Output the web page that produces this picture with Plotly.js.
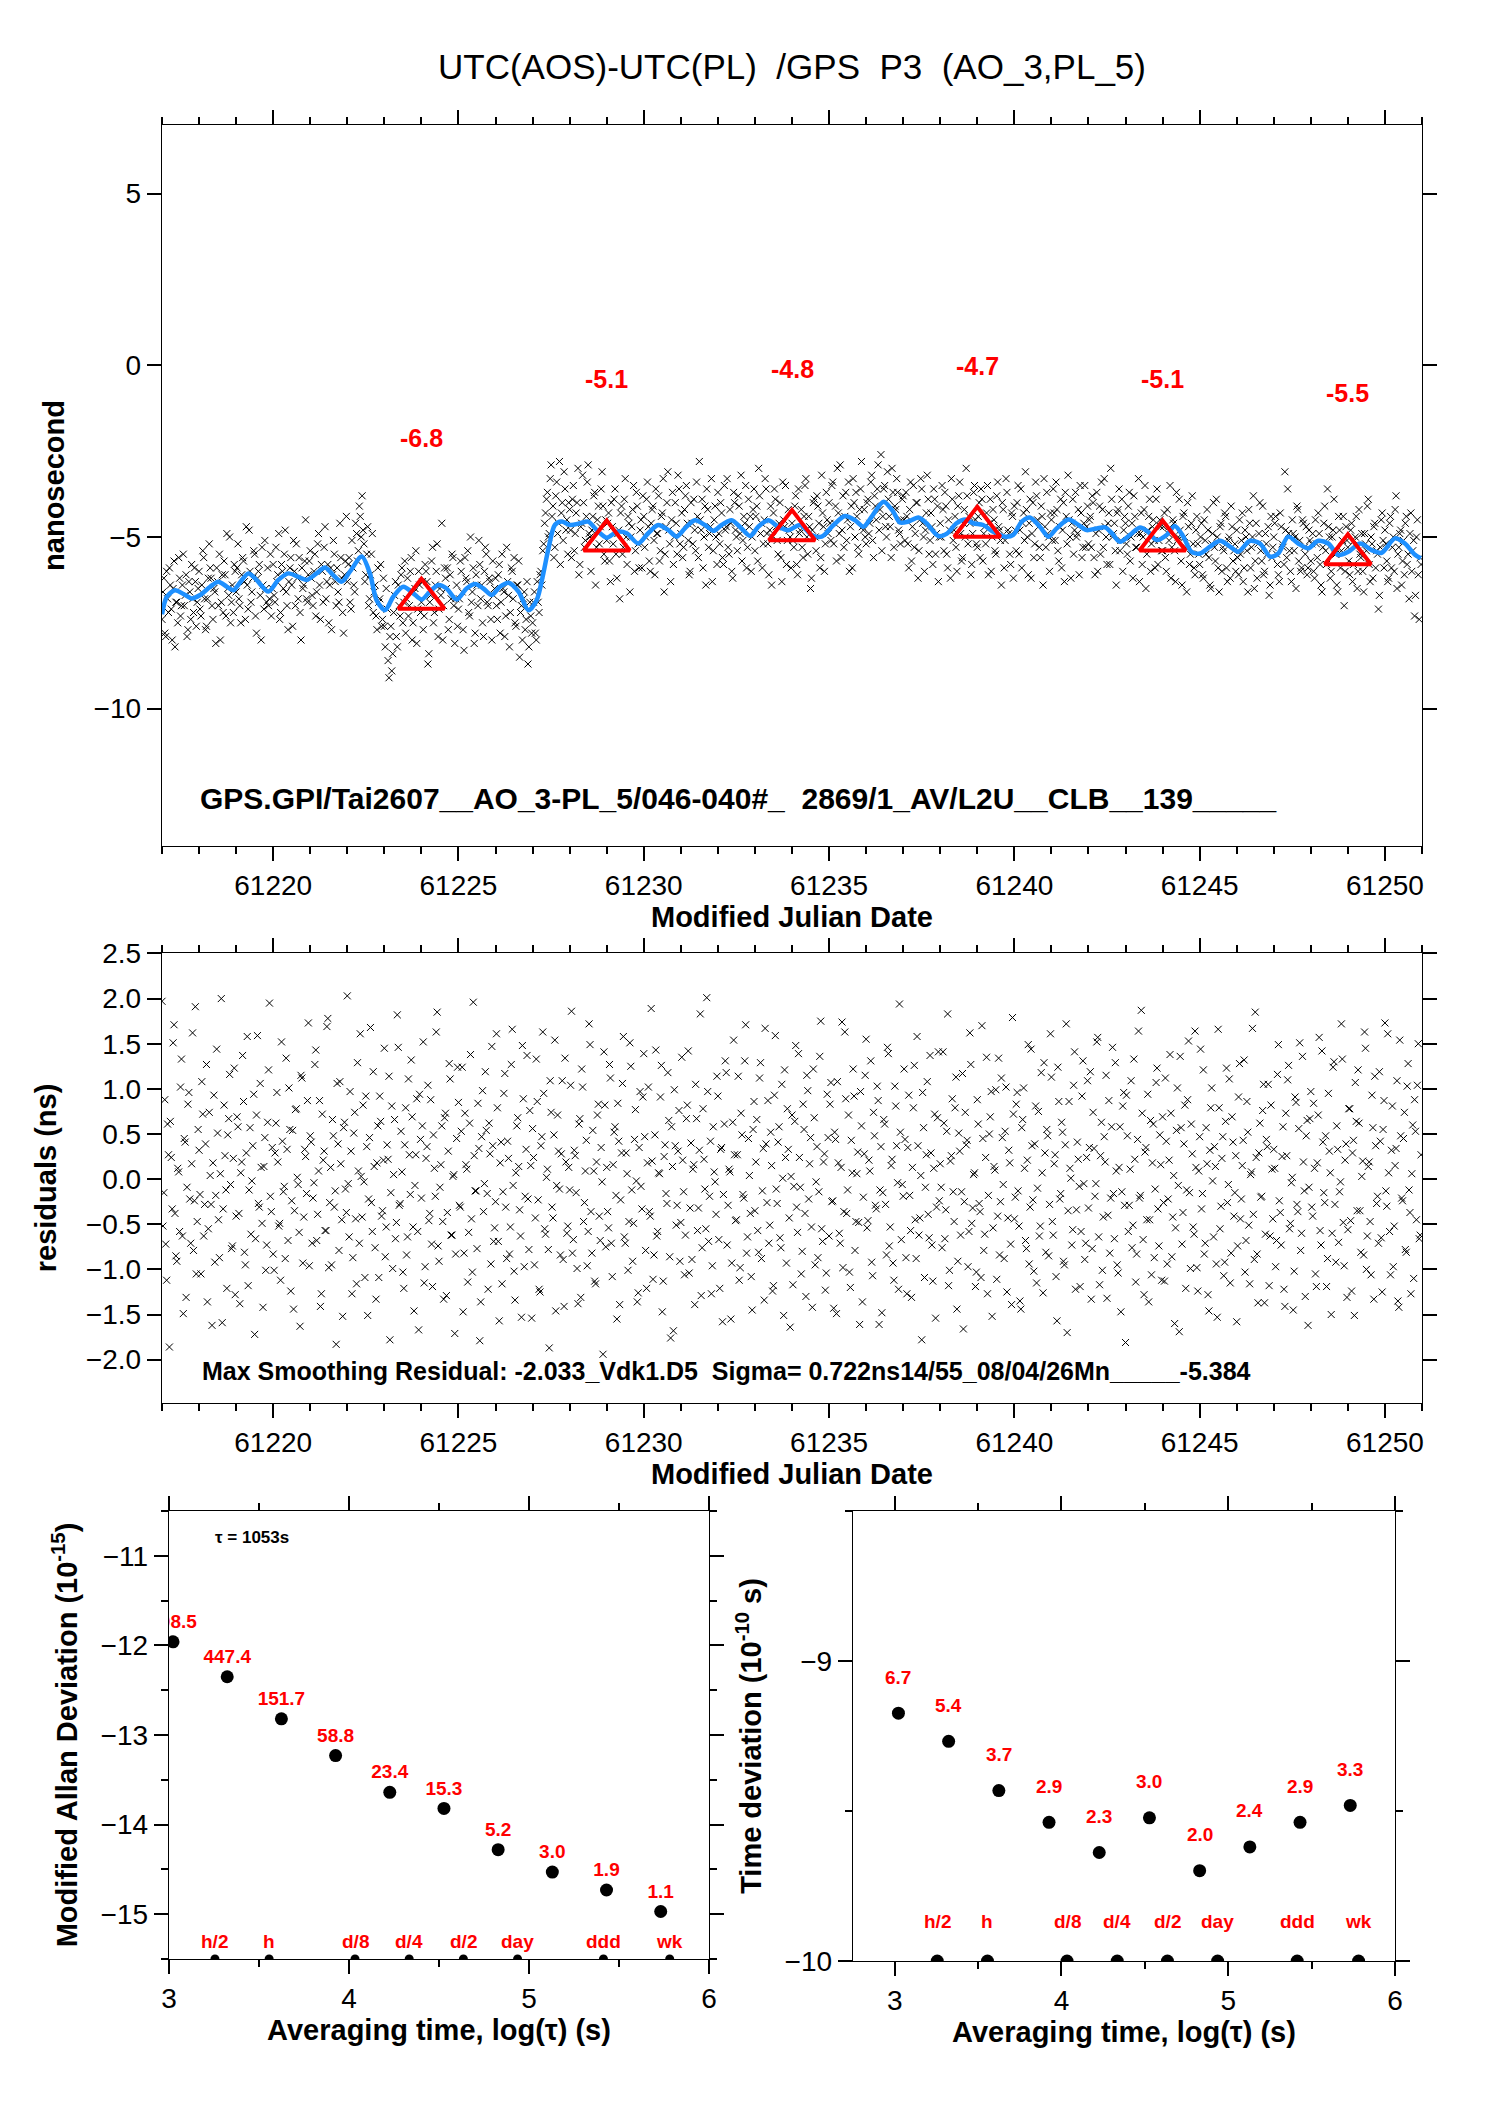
<!DOCTYPE html>
<html><head><meta charset="utf-8">
<script src="https://cdn.plot.ly/plotly-3.0.1.min.js"></script>
<style>html,body{margin:0;padding:0;background:#fff}#chart{width:1488px;height:2105px}</style>
</head><body><div id="chart"></div>
<script>
// ---- sampling of the clock-comparison series (MJD) ----
const sampleStartMJD = 61217.0;
const sampleStartMJD_B = 61217.025;
const sampleStepDays = 0.05;

// ---- UTC(AOS)-UTC(PL) raw points, ns (20 per day) ----
const clockDiffNs = [
-7.4,-6.2,-7.9,-6.8,-5.9,-7.1,-6.5,-8.2,-6.9,-5.6,-7.3,-6.4,-7.0,-6.1,-7.7,-6.6,-5.8,-7.2,-6.3,-6.9,
-6.0,-7.3,-5.4,-6.8,-7.6,-6.2,-5.9,-7.0,-6.5,-8.1,-6.3,-5.5,-6.9,-7.2,-6.1,-4.9,-6.7,-7.5,-6.4,-5.8,
-6.6,-5.2,-7.0,-6.1,-5.7,-7.4,-6.4,-4.8,-6.9,-6.2,-5.5,-7.8,-6.0,-6.7,-5.3,-7.1,-6.5,-5.9,-6.8,-7.3,
-5.8,-6.9,-6.3,-4.9,-7.2,-6.0,-5.5,-6.6,-7.7,-5.9,-6.4,-5.1,-7.0,-6.2,-5.6,-8.0,-6.5,-5.7,-6.8,-6.1,
-5.4,-6.7,-6.0,-7.3,-5.2,-6.4,-5.8,-6.9,-4.7,-6.3,-7.5,-5.9,-6.1,-5.5,-7.0,-6.6,-4.6,-6.2,-7.8,-5.7,
-6.3,-5.6,-7.1,-5.9,-6.6,-4.9,-5.4,-4.4,-3.8,-5.2,-6.1,-4.7,-6.8,-5.5,-7.2,-6.4,-7.7,-6.9,-5.8,-7.4,
-7.6,-6.5,-8.6,-7.9,-8.9,-7.2,-6.3,-8.2,-7.0,-6.1,-7.5,-5.7,-6.8,-7.3,-6.0,-8.0,-6.6,-5.4,-7.1,-6.4,
-6.9,-7.7,-5.8,-6.3,-8.4,-6.7,-5.3,-7.2,-6.0,-7.9,-6.5,-4.6,-7.0,-6.2,-5.9,-7.4,-6.8,-5.6,-8.1,-6.4,
-7.1,-5.7,-6.6,-8.3,-6.2,-5.4,-7.3,-6.9,-5.9,-7.8,-6.4,-5.1,-6.8,-7.5,-6.0,-5.5,-7.0,-6.3,-8.0,-6.7,
-6.2,-7.4,-5.8,-6.9,-6.5,-7.9,-5.3,-6.7,-7.2,-6.0,-5.6,-7.6,-6.4,-8.5,-7.0,-6.8,-7.7,-6.3,-8.2,-7.3,
-7.5,-6.6,-8.0,-6.9,-6.1,-6.4,-5.2,-4.3,-3.7,-4.9,-2.9,-4.1,-5.3,-3.4,-4.6,-5.8,-4.0,-3.1,-4.8,-5.5,
-4.2,-5.6,-3.5,-4.9,-4.0,-6.1,-4.7,-3.2,-5.3,-4.4,-2.9,-5.0,-4.8,-3.8,-6.4,-4.5,-5.2,-3.6,-4.1,-5.7,
-5.1,-4.3,-6.3,-4.7,-3.9,-5.5,-4.9,-6.8,-4.1,-5.3,-3.3,-5.8,-4.6,-5.0,-4.2,-6.0,-3.7,-5.2,-4.8,-5.9,
-4.4,-5.0,-3.4,-5.7,-4.6,-4.1,-6.1,-4.9,-3.8,-5.4,-4.3,-6.6,-4.7,-3.1,-5.2,-4.5,-5.8,-4.0,-5.5,-3.6,
-4.9,-5.6,-4.2,-3.5,-5.1,-6.0,-4.6,-3.9,-5.4,-4.4,-2.8,-4.8,-5.9,-4.1,-3.6,-5.3,-4.7,-6.3,-4.5,-5.0,
-3.7,-5.2,-4.3,-5.8,-4.8,-3.3,-5.5,-4.6,-6.2,-4.0,-5.0,-3.8,-4.9,-5.7,-4.4,-3.5,-5.3,-4.7,-6.0,-4.2,
-5.4,-4.1,-3.0,-4.9,-5.9,-4.5,-3.6,-5.2,-4.8,-6.4,-4.3,-3.9,-5.1,-4.6,-5.6,-3.4,-4.7,-5.8,-4.2,-5.0,
-4.6,-5.3,-3.8,-6.1,-4.9,-4.2,-5.6,-3.5,-5.0,-4.4,-6.5,-4.8,-3.9,-5.4,-4.1,-5.9,-3.2,-4.7,-5.2,-4.5,
-4.0,-5.1,-3.4,-4.6,-5.7,-4.3,-2.9,-4.8,-5.3,-3.7,-4.5,-6.0,-4.1,-3.3,-5.0,-4.4,-5.5,-3.6,-4.7,-4.2,
-5.2,-3.9,-4.6,-3.2,-5.6,-4.1,-3.6,-4.8,-2.6,-4.4,-3.5,-5.0,-3.9,-4.7,-3.0,-5.3,-4.2,-3.7,-4.9,-4.5,
-3.8,-5.1,-4.4,-5.9,-3.4,-4.7,-5.3,-4.0,-6.2,-4.5,-3.6,-5.0,-4.8,-3.2,-5.5,-4.3,-5.8,-3.9,-4.9,-6.3,
-4.6,-3.5,-5.4,-4.1,-5.9,-4.8,-3.3,-5.1,-4.4,-6.0,-3.8,-4.9,-5.6,-4.2,-3.0,-5.2,-4.6,-5.8,-3.7,-4.5,
-5.3,-4.0,-3.6,-5.7,-4.7,-4.3,-6.1,-3.9,-5.0,-4.5,-5.5,-3.4,-4.8,-6.4,-4.2,-5.1,-3.7,-4.9,-5.8,-4.4,
-4.1,-5.4,-3.5,-4.8,-5.9,-4.3,-3.1,-5.0,-4.6,-6.2,-4.0,-5.2,-3.8,-4.7,-5.6,-4.4,-3.3,-5.3,-4.9,-6.0,
-4.5,-3.6,-5.1,-4.2,-5.7,-3.9,-4.8,-6.3,-4.4,-3.2,-5.0,-4.6,-5.5,-3.7,-4.9,-6.1,-4.3,-5.3,-3.5,-4.7,
-5.2,-4.4,-3.8,-5.6,-4.9,-6.0,-4.1,-3.4,-5.3,-4.7,-5.8,-4.3,-3.0,-5.0,-4.6,-6.4,-4.2,-5.4,-3.9,-4.8,
-4.6,-5.5,-3.7,-5.0,-6.2,-4.4,-5.3,-3.3,-4.9,-5.8,-4.2,-6.5,-4.8,-3.9,-5.2,-4.5,-5.9,-3.6,-5.1,-4.7,
-5.4,-4.3,-6.0,-4.9,-3.5,-5.3,-4.6,-6.3,-5.1,-3.9,-5.7,-4.4,-5.0,-6.6,-4.7,-5.5,-3.8,-5.9,-4.8,-5.2,
-5.8,-4.6,-6.2,-5.1,-4.2,-5.6,-6.5,-4.9,-5.3,-3.9,-5.9,-4.7,-6.0,-5.4,-4.4,-6.3,-5.0,-4.1,-5.7,-5.2,
-4.8,-6.1,-5.5,-4.3,-5.9,-5.0,-6.6,-4.6,-5.3,-3.8,-5.7,-6.2,-4.9,-5.4,-4.1,-6.0,-5.2,-4.7,-6.4,-5.6,
-5.0,-4.4,-5.8,-6.3,-4.7,-5.3,-3.1,-5.6,-4.9,-6.0,-4.5,-5.4,-6.5,-4.2,-5.1,-5.9,-4.6,-5.5,-6.1,-4.8,
-5.7,-4.9,-6.2,-5.2,-4.3,-5.8,-6.6,-4.6,-5.4,-3.6,-5.0,-6.0,-4.8,-5.5,-6.4,-4.4,-5.9,-5.1,-7.0,-4.7,
-5.3,-6.1,-4.6,-5.8,-5.0,-6.5,-4.2,-5.6,-6.0,-4.9,-5.4,-3.9,-6.3,-5.2,-4.7,-5.9,-5.5,-6.7,-4.5,-5.1,
-4.8,-5.7,-6.2,-4.4,-5.3,-6.0,-3.8,-5.5,-4.9,-6.4,-5.1,-4.6,-5.8,-6.8,-4.3,-5.4,-7.3,-5.0,-6.1,-5.6
];
// second interleaved set of raw points (half-step later)
const clockDiffNsB = [
-6.6,-7.8,-6.0,-7.2,-6.4,-8.0,-5.7,-6.9,-7.5,-6.2,-7.0,-5.5,-6.7,-7.9,-6.3,-7.4,-6.8,-5.9,-7.6,-6.5,
-7.1,-6.4,-5.6,-7.7,-6.8,-5.2,-6.2,-7.4,-6.6,-5.9,-7.0,-8.0,-6.1,-5.7,-7.3,-6.5,-5.0,-6.9,-7.2,-6.0,
-5.9,-6.8,-7.5,-5.6,-6.3,-4.7,-7.1,-6.0,-6.6,-5.4,-7.3,-6.2,-5.8,-8.0,-6.4,-5.1,-6.9,-7.0,-5.5,-6.5,
-6.7,-5.3,-6.1,-7.4,-5.8,-6.5,-4.8,-7.0,-6.3,-5.6,-7.6,-6.0,-5.2,-6.8,-7.2,-5.9,-6.4,-4.5,-6.9,-5.7,
-6.2,-7.0,-5.5,-6.6,-4.9,-7.4,-6.0,-5.3,-6.8,-5.8,-6.4,-7.7,-5.1,-6.3,-5.9,-6.9,-5.6,-7.2,-6.1,-4.4,
-5.8,-6.9,-5.1,-6.4,-4.6,-5.7,-4.1,-5.0,-4.8,-6.3,-5.5,-7.0,-6.1,-4.9,-6.6,-7.3,-5.9,-6.8,-7.6,-6.2,
-8.2,-7.1,-9.1,-7.6,-8.4,-6.7,-7.9,-6.4,-7.3,-5.9,-6.9,-7.8,-6.2,-7.0,-5.6,-7.5,-6.5,-8.1,-6.0,-7.2,
-6.3,-7.3,-6.0,-8.7,-6.9,-5.7,-7.5,-6.4,-5.2,-7.1,-6.7,-8.0,-5.9,-6.5,-7.7,-6.1,-5.5,-7.0,-6.8,-7.6,
-6.8,-6.0,-7.7,-5.6,-6.3,-7.2,-5.0,-6.6,-8.1,-6.1,-7.0,-5.8,-6.4,-7.9,-5.3,-6.9,-6.2,-7.4,-5.7,-6.5,
-7.0,-6.1,-7.8,-5.5,-6.6,-7.3,-6.3,-8.2,-5.9,-6.8,-7.5,-6.4,-5.7,-7.2,-8.0,-6.6,-7.4,-8.7,-6.9,-7.8,
-6.9,-7.8,-6.3,-7.2,-6.0,-5.4,-4.6,-3.9,-5.0,-3.3,-4.4,-5.6,-3.8,-4.9,-2.8,-4.3,-5.1,-3.6,-4.5,-4.0,
-4.8,-3.9,-5.4,-4.3,-3.0,-5.8,-4.6,-4.0,-5.1,-3.4,-4.9,-6.0,-4.4,-3.7,-5.3,-4.1,-4.7,-3.1,-5.5,-4.5,
-4.6,-5.7,-4.0,-5.2,-3.6,-6.2,-4.8,-4.3,-5.5,-3.9,-5.0,-4.4,-6.6,-4.7,-3.5,-5.4,-4.1,-5.9,-4.5,-3.8,
-5.3,-3.9,-4.7,-6.0,-4.2,-5.1,-3.6,-4.9,-5.7,-4.4,-3.3,-5.5,-4.0,-4.8,-6.3,-3.7,-5.0,-4.6,-3.2,-5.2,
-4.3,-5.3,-3.8,-4.6,-6.1,-4.0,-5.2,-4.8,-3.4,-5.6,-4.5,-3.9,-5.0,-6.4,-4.2,-4.9,-3.3,-5.4,-4.1,-5.8,
-4.9,-4.0,-5.6,-3.5,-4.7,-5.3,-4.2,-6.0,-3.7,-4.8,-5.4,-4.1,-3.2,-5.1,-4.6,-5.9,-3.9,-4.4,-5.0,-3.6,
-4.4,-5.7,-3.8,-4.6,-5.2,-3.3,-4.9,-6.1,-4.1,-5.0,-3.6,-4.7,-5.5,-4.0,-6.3,-4.5,-3.5,-5.1,-4.8,-5.9,
-5.1,-4.1,-5.8,-3.6,-4.8,-5.3,-4.4,-3.3,-5.5,-4.7,-6.2,-4.0,-5.0,-3.8,-4.6,-5.6,-4.3,-6.0,-3.7,-4.9,
-4.6,-3.5,-5.2,-4.1,-3.0,-4.9,-5.6,-3.8,-4.4,-5.1,-3.4,-4.7,-5.9,-4.0,-3.7,-5.3,-4.2,-2.8,-4.8,-5.0,
-4.0,-4.9,-3.4,-5.1,-3.8,-4.5,-2.9,-4.2,-5.4,-3.6,-4.7,-3.1,-4.4,-5.6,-3.7,-4.1,-3.3,-4.8,-5.2,-3.9,
-4.5,-3.7,-5.2,-4.2,-5.7,-3.5,-4.9,-4.0,-5.4,-3.3,-4.6,-6.0,-4.3,-3.9,-5.1,-4.7,-3.6,-5.5,-4.1,-5.0,
-5.0,-4.2,-3.7,-5.5,-4.5,-6.2,-3.9,-4.8,-5.3,-4.1,-3.4,-5.7,-4.6,-5.0,-3.8,-4.4,-6.1,-4.9,-3.5,-5.2,
-4.4,-5.6,-3.9,-4.9,-5.2,-3.5,-4.6,-6.0,-4.2,-5.4,-3.8,-4.7,-5.1,-4.0,-5.9,-3.3,-4.8,-5.5,-4.3,-6.2,
-4.8,-4.0,-5.5,-3.6,-4.6,-5.1,-4.2,-6.1,-3.9,-4.9,-5.6,-3.4,-4.5,-5.3,-4.1,-6.4,-4.7,-3.7,-5.0,-4.3,
-5.1,-4.3,-3.4,-5.4,-4.7,-5.9,-4.0,-3.7,-5.2,-4.5,-6.2,-3.9,-4.8,-5.0,-4.2,-3.5,-5.6,-4.6,-5.3,-4.1,
-4.5,-5.3,-4.0,-6.1,-3.7,-4.8,-5.5,-4.2,-3.3,-5.0,-4.6,-5.8,-3.9,-4.9,-5.4,-4.3,-3.6,-5.1,-6.0,-4.4,
-5.2,-4.1,-5.7,-4.6,-3.8,-5.3,-4.9,-6.3,-4.3,-5.0,-3.5,-5.5,-4.4,-6.0,-4.7,-5.1,-3.9,-5.8,-4.5,-5.4,
-4.7,-5.6,-4.2,-5.1,-6.2,-4.5,-5.4,-3.7,-5.0,-4.8,-6.4,-4.3,-5.3,-4.0,-5.8,-4.6,-5.2,-6.1,-4.4,-5.5,
-5.0,-6.1,-4.5,-5.5,-4.8,-6.4,-5.2,-4.0,-5.7,-5.0,-6.6,-4.6,-5.3,-4.3,-5.9,-5.1,-6.2,-4.7,-5.4,-6.0,
-5.6,-4.5,-5.1,-6.3,-4.8,-5.4,-4.2,-5.9,-5.0,-6.5,-4.6,-5.2,-4.0,-5.7,-6.1,-4.9,-5.5,-6.7,-4.4,-5.3,
-4.6,-5.5,-6.1,-4.3,-5.2,-5.8,-4.8,-3.6,-5.4,-6.3,-4.9,-5.0,-4.1,-5.7,-6.0,-4.5,-5.3,-4.7,-5.9,-5.1,
-5.2,-6.0,-4.5,-5.6,-4.9,-6.4,-5.3,-4.1,-5.8,-4.7,-6.2,-5.0,-3.9,-5.5,-6.6,-4.8,-5.4,-4.4,-6.0,-5.1,
-5.7,-4.8,-6.3,-5.1,-4.4,-6.0,-5.5,-4.9,-6.6,-5.2,-4.1,-5.8,-5.0,-6.2,-4.6,-5.4,-7.1,-5.3,-4.3,-5.9,
-5.2,-6.3,-4.6,-5.9,-5.0,-4.2,-6.5,-5.3,-4.8,-5.7,-6.1,-4.4,-5.5,-4.9,-6.0,-5.1,-6.7,-4.5,-7.4,-5.8
];

// ---- smoothing residuals, ns ----
const residualsNs = [
1.97,-0.15,-0.72,0.61,-1.86,0.24,1.51,-0.38,-0.91,0.08,1.02,-0.63,0.45,-1.31,0.83,-0.22,0.17,-0.79,1.91,-0.47,
0.32,-1.05,0.72,-0.28,1.27,-0.55,0.04,-1.62,0.93,-0.18,0.51,-0.87,2.00,-0.33,0.26,-1.21,0.67,-0.06,-0.74,1.23,
-0.41,0.58,-1.38,0.19,0.86,-0.95,1.58,-0.12,-0.61,0.37,-1.72,0.71,-0.27,1.06,-0.49,0.14,-1.01,0.63,1.95,-0.36,
-0.83,0.29,0.96,-0.52,-1.12,0.42,-0.08,1.34,-0.68,0.55,-0.24,-1.44,0.77,0.02,-0.59,1.15,-0.93,0.33,-0.16,1.73,
0.48,-0.71,-0.04,1.43,-0.39,0.87,-1.27,0.21,-0.57,1.69,-0.98,0.13,0.66,-0.31,-1.83,0.39,1.08,-0.45,0.57,-0.11,
2.03,-0.64,0.31,-0.87,0.74,-1.16,0.09,1.61,-0.42,-0.03,0.92,-1.51,0.46,-0.26,1.19,-0.76,0.18,-1.09,0.64,-0.35,
1.45,-0.53,0.22,-1.78,0.81,0.05,-0.66,1.82,-0.29,0.53,-1.03,0.38,-0.84,1.11,-0.17,0.69,-1.46,0.27,-0.58,0.94,
-0.21,1.52,-0.97,0.36,-0.46,0.88,-1.19,0.12,1.63,-0.74,-0.09,0.59,-1.33,0.73,-0.37,1.28,-0.62,0.03,-1.71,0.45,
0.85,-0.31,1.24,-0.82,0.16,-1.14,0.62,-0.44,1.96,-0.13,-0.77,0.34,-1.36,0.98,-0.05,0.54,-1.22,0.28,1.47,-0.69,
-0.25,0.79,-1.57,0.41,-0.14,1.17,-0.88,0.23,-0.53,1.66,-1.02,0.07,0.68,-0.34,-1.53,0.89,-0.19,1.37,-0.78,0.15,
0.56,-0.95,1.33,-0.23,-1.25,0.47,0.95,-0.61,0.11,-1.87,0.74,-0.43,1.54,-0.07,0.31,-0.84,1.09,-1.41,0.19,-0.52,
-0.12,1.86,-0.67,0.26,-0.99,0.61,-1.31,1.02,-0.26,0.43,-0.58,1.49,-0.82,0.09,-1.16,0.71,-0.41,0.35,-1.94,0.82,
0.13,-0.54,1.12,-1.08,0.52,-0.18,0.84,-1.39,0.29,1.58,-0.71,0.06,-0.47,1.25,-0.91,0.44,-0.02,-1.26,0.97,-0.33,
1.39,-0.79,0.18,-0.36,1.89,-1.11,0.49,-0.63,0.07,0.91,-1.47,0.25,-0.16,1.18,-0.86,0.58,-1.68,0.37,-0.29,0.76,
-0.48,0.21,-1.06,0.67,1.42,-0.32,-0.89,0.16,1.05,-0.57,0.32,-1.29,0.78,-0.11,2.01,-0.69,0.42,-0.96,0.08,-0.39,
0.92,-1.21,0.35,-0.17,1.31,-0.73,0.11,-1.55,0.63,0.27,-0.45,1.14,-0.98,0.49,-0.21,1.71,-0.64,0.04,-1.08,0.55,
-0.35,0.66,-0.81,1.29,-0.13,-1.34,0.39,0.87,-0.51,0.15,-1.18,1.59,-0.27,0.58,-0.76,0.01,1.21,-0.93,0.33,-1.64,
0.71,-0.08,1.48,-0.59,0.24,-1.05,0.83,-0.38,1.15,-0.22,0.46,-1.42,0.68,-0.03,-0.87,1.36,-0.55,0.19,-1.23,0.94,
-0.63,1.07,-0.24,0.52,-1.49,0.18,-0.71,1.74,-0.36,0.89,-0.12,-1.03,0.43,1.22,-0.79,0.06,-0.48,0.97,-1.36,0.28,
1.55,-0.46,0.09,-0.92,0.74,-0.29,1.03,-1.61,0.36,-0.15,0.61,-0.84,1.39,-0.53,0.22,-1.12,0.81,-0.04,1.94,-0.67,
-0.19,0.44,-1.27,0.93,-0.57,0.13,1.26,-0.88,0.37,-0.43,-1.78,0.57,-0.09,1.08,-0.65,0.29,-1.13,0.72,-0.31,1.41,
0.17,-0.76,0.62,-0.34,1.83,-1.01,0.26,-0.14,0.79,-1.44,0.51,-0.62,1.17,-0.25,0.38,-0.97,1.62,-0.49,0.05,-1.19,
0.88,-0.27,-1.09,0.45,-0.61,1.35,-0.18,0.69,-1.52,0.14,0.99,-0.41,-0.84,1.12,-0.06,0.53,-1.25,0.32,-0.72,1.79,
-0.44,0.83,-0.13,-1.35,0.57,1.01,-0.68,0.21,-0.94,1.44,-0.23,0.39,-1.15,0.75,-0.52,0.07,1.29,-0.81,0.48,-0.28,
1.13,-0.62,0.27,-1.57,0.86,-0.16,0.52,-0.95,1.72,-0.35,0.12,-0.73,1.04,-1.22,0.41,-0.08,-0.58,1.31,-0.89,0.24,
-0.32,1.19,-0.77,0.34,-0.05,1.57,-1.17,0.63,-0.42,0.19,-1.32,0.87,-0.21,1.46,-0.66,0.09,-1.04,0.58,-0.14,0.96,
-1.81,0.48,-0.29,1.09,-0.51,0.22,-0.83,1.64,-0.18,0.73,-1.28,0.35,0.94,-0.45,-1.06,0.61,-0.11,1.23,-0.74,0.16,
0.69,-1.13,0.42,-0.22,1.38,-0.86,0.04,-0.54,1.01,-1.69,0.57,-0.37,0.82,-0.12,1.53,-0.99,0.28,-0.61,0.13,-1.24,
0.47,-0.33,1.21,-0.71,0.17,-1.46,0.79,-0.02,0.36,-0.94,1.66,-0.55,0.23,-1.07,0.64,-0.26,1.11,-0.82,0.41,-0.15,
-1.58,0.91,-0.44,0.15,1.32,-0.68,0.52,-1.16,0.08,-0.39,1.85,-0.83,0.29,-0.20,0.76,-1.37,0.44,1.05,-0.63,0.11,
0.33,-0.97,1.16,-0.24,-0.73,0.58,-1.41,0.26,1.26,-0.49,0.02,-1.02,0.85,-0.36,1.51,-0.60,0.19,-1.30,0.65,-0.09,
0.97,-0.41,0.12,-1.19,0.71,-0.57,1.42,-0.15,0.48,-0.88,0.31,-1.50,1.24,-0.28,0.59,-0.70,-0.03,1.33,-0.96,0.39,
-0.56,0.78,-1.24,0.43,1.07,-0.35,0.62,-0.81,0.20,1.63,-1.00,0.14,-0.47,0.93,-1.33,0.37,-0.19,1.19,-0.65,0.55,
1.73,-0.30,0.07,-1.06,0.81,-0.52,0.34,-1.35,1.54,-0.21,0.45,-0.78,1.03,-0.12,-1.27,0.60,0.88,-0.45,1.50,-0.62
];
// second interleaved set of residuals (half-step later)
const residualsNsB = [
-0.52,0.88,-1.12,0.27,0.64,-0.33,1.71,-0.85,0.12,-0.58,1.33,-1.49,0.41,-0.09,0.96,-0.71,1.62,-0.24,-1.05,0.55,
-0.17,1.08,-0.63,0.39,-1.36,0.74,-0.28,0.18,-0.92,1.44,-0.45,0.06,-1.59,0.82,-0.12,0.49,1.16,-0.77,0.23,-1.28,
0.69,-0.38,0.07,1.37,-0.81,0.29,-1.18,0.57,-0.02,0.94,-0.66,1.59,-0.31,0.13,-1.42,0.46,-0.73,1.21,-0.19,0.35,
-1.01,0.62,0.19,-0.49,1.52,-0.14,-0.88,0.33,1.01,-1.24,0.54,-0.35,0.78,-0.06,-1.63,1.12,-0.42,0.25,0.87,-0.96,
0.41,-0.21,1.27,-0.68,0.09,-1.41,0.72,0.31,-0.57,1.78,-0.26,-0.95,0.48,-0.13,1.06,-0.79,0.17,-1.52,0.63,-0.37,
-0.05,0.97,-1.27,0.51,-0.44,1.29,-0.71,0.03,0.82,-1.09,0.36,-0.22,1.68,-0.58,0.14,-1.33,0.59,0.92,-0.41,0.21,
-0.86,0.38,1.14,-0.15,-0.99,0.66,-0.48,1.46,-0.27,0.08,-1.21,0.79,-0.64,0.27,1.32,-0.53,-0.07,0.89,-1.67,0.44,
0.59,-1.15,0.23,1.04,-0.38,-0.72,0.49,-0.19,1.85,-0.91,0.16,-0.47,0.68,-1.29,0.31,1.11,-0.62,0.05,-0.83,1.24,
-0.29,0.53,-1.47,0.73,0.11,-0.59,1.38,-1.03,0.26,-0.13,0.84,-1.79,0.47,-0.36,1.19,-0.16,0.62,-0.94,0.37,-0.54,
1.61,-0.69,0.18,-1.16,0.95,-0.31,0.42,-0.83,1.27,-0.07,-1.34,0.59,0.14,-0.63,1.48,-0.97,0.33,-0.22,0.76,-1.54,
0.24,-0.43,0.86,-1.22,0.37,1.63,-0.55,0.02,-0.78,1.09,-0.31,0.49,-1.46,0.71,-0.11,0.28,-0.89,1.34,-0.60,0.13,
1.04,-0.82,0.32,-0.15,-1.38,0.67,1.22,-0.47,0.09,-0.96,1.72,-0.36,0.54,-1.13,0.19,0.83,-0.68,-0.03,1.41,-0.75,
-0.36,1.27,-0.71,0.16,0.58,-1.55,0.42,-0.23,1.06,-0.64,0.29,-1.01,1.51,-0.12,-0.49,0.77,-1.36,0.35,-0.08,0.91,
0.47,-1.21,1.02,-0.41,0.20,-0.84,1.43,-0.58,0.06,1.26,-1.13,0.38,-0.27,0.65,-1.76,0.14,0.99,-0.51,0.31,-0.91,
1.35,-0.14,-0.62,0.82,-1.04,0.40,0.11,-1.39,0.67,-0.32,1.83,-0.76,0.22,-0.55,0.97,-0.19,-1.27,0.58,-0.03,1.14,
-0.67,0.33,-1.58,0.61,1.18,-0.29,0.08,-0.93,1.54,-0.46,0.27,-1.12,0.73,-0.17,1.31,-0.82,0.45,-0.38,-1.45,0.86,
0.19,-0.57,1.12,-0.88,0.34,1.67,-0.26,-0.71,0.52,-1.24,0.93,-0.11,0.41,-0.65,1.05,-1.51,0.24,0.78,-0.43,0.03,
-1.17,0.64,-0.31,1.39,-0.09,-0.80,0.55,-1.30,0.98,0.17,-0.53,1.22,-0.95,0.36,-0.14,1.75,-0.69,0.28,-1.04,0.46,
0.83,-0.25,-1.43,0.44,1.08,-0.60,0.13,-0.98,1.63,-0.38,0.71,-1.20,0.07,0.92,-0.47,0.30,-1.61,0.59,-0.20,1.15,
-0.54,0.21,1.31,-1.07,0.48,-0.33,0.87,-0.12,-1.48,0.66,-0.28,1.46,-0.74,0.15,-0.93,1.03,0.37,-1.22,0.52,-0.06,
1.22,-0.87,0.35,-0.18,-1.31,0.79,-0.45,1.58,-0.62,0.04,0.96,-1.09,0.27,-0.39,1.37,-0.73,0.12,-1.54,0.68,-0.24,
-0.09,1.41,-0.66,0.53,-1.18,0.20,0.89,-0.47,1.13,-0.91,0.31,-0.14,-1.66,0.74,0.43,-0.58,1.27,-0.32,0.07,-1.03,
0.61,-0.36,1.70,-0.79,0.24,-1.27,0.50,0.97,-0.54,0.10,-1.11,1.34,-0.25,0.46,-0.88,1.02,-0.43,0.18,-1.39,0.72,
-0.20,0.96,-0.52,-1.44,0.66,0.12,-0.77,1.49,-0.31,0.37,-1.02,0.81,-0.10,-0.63,1.18,-1.26,0.29,0.55,-0.85,1.61,
-0.47,0.17,-1.08,1.24,-0.22,0.63,-0.91,0.38,-1.70,0.86,0.01,-0.56,1.41,-0.34,0.22,-1.19,0.92,-0.05,-0.71,1.09,
0.35,-1.33,0.74,-0.19,1.52,-0.64,0.26,-1.01,0.47,1.15,-0.40,-0.82,0.58,-0.16,1.29,-0.95,0.13,-1.47,0.81,-0.29,
0.93,-0.58,0.11,-0.76,1.33,-1.14,0.44,-0.21,1.87,-0.67,0.30,-0.45,-1.36,0.65,0.18,-0.87,1.07,-0.33,0.49,-1.12,
-0.26,1.12,-0.94,0.21,0.73,-0.42,-1.60,0.54,-0.07,1.36,-0.72,0.39,-1.21,0.88,-0.15,0.61,-0.53,1.64,-0.98,0.09,
1.44,-0.16,-0.83,0.57,-1.28,0.32,1.01,-0.64,0.14,-1.53,0.79,-0.30,0.47,-0.92,1.23,-0.06,-1.15,0.69,-0.41,0.26,
-0.74,1.28,-0.22,0.43,-1.03,0.86,-0.51,0.05,1.67,-0.89,0.24,-1.37,0.62,-0.19,1.05,-0.61,0.36,-1.18,0.82,-0.44,
0.12,-0.68,1.49,-0.37,0.25,-1.22,0.73,1.10,-0.55,-0.04,-1.45,0.91,-0.28,0.56,-0.79,1.36,-0.13,0.48,-1.62,0.67,
-0.31,0.84,-1.05,0.18,1.57,-0.73,0.41,-0.26,-1.19,0.95,0.07,-0.60,1.30,-0.92,0.33,-0.14,1.72,-0.48,0.21,-1.31,
0.78,-0.46,0.29,-1.51,0.64,1.21,-0.35,0.03,-0.84,1.45,-0.63,0.19,-1.06,0.57,1.14,-0.27,-0.71,0.42,-1.25,0.87,
-0.13,1.61,-0.58,0.32,-0.97,0.15,1.09,-1.42,0.48,-0.24,0.74,-0.81,1.28,-0.37,0.06,-1.10,0.53,1.04,-0.66,0.27
];

// ---- smoothed curve (blue) ----
const smoothMJD = [61217.00,61217.13,61217.35,61217.58,61217.80,61218.03,61218.30,61218.52,61218.75,61218.93,
61219.02,61219.33,61219.55,61219.87,61220.14,61220.41,61220.68,61220.90,61221.17,61221.40,61221.62,61221.85,
61222.07,61222.39,61222.61,61222.79,61223.02,61223.24,61223.51,61223.78,61224.01,61224.23,61224.46,61224.68,
61224.95,61225.22,61225.45,61225.67,61225.90,61226.12,61226.35,61226.62,61226.89,61227.11,61227.29,61227.42,
61227.60,61227.78,61228.01,61228.28,61228.50,61228.73,61229.00,61229.27,61229.54,61229.85,61230.12,61230.39,
61230.66,61230.89,61231.11,61231.38,61231.65,61231.88,61232.10,61232.37,61232.64,61232.87,61233.09,61233.36,
61233.63,61233.90,61234.22,61234.53,61234.80,61235.12,61235.43,61235.70,61235.93,61236.15,61236.47,61236.73,
61236.91,61237.14,61237.41,61237.63,61237.95,61238.17,61238.44,61238.67,61238.89,61239.16,61239.43,61239.75,
61239.97,61240.20,61240.42,61240.69,61240.92,61241.14,61241.46,61241.73,61241.95,61242.22,61242.45,61242.63,
61242.85,61243.12,61243.39,61243.61,61243.84,61244.11,61244.33,61244.56,61244.78,61245.01,61245.28,61245.55,
61245.82,61246.04,61246.36,61246.63,61246.90,61247.12,61247.39,61247.66,61247.93,61248.20,61248.47,61248.74,
61249.01,61249.33,61249.64,61249.91,61250.27,61250.54,61250.81,61250.97];
const smoothNs = [-7.25,-6.74,-6.55,-6.66,-6.79,-6.69,-6.45,-6.30,-6.45,-6.55,
-6.45,-6.06,-6.25,-6.59,-6.25,-6.06,-6.16,-6.25,-6.06,-5.89,-6.11,-6.30,
-6.01,-5.57,-6.06,-6.84,-7.13,-6.74,-6.45,-6.64,-6.82,-6.59,-6.40,-6.50,
-6.82,-6.50,-6.37,-6.50,-6.69,-6.45,-6.33,-6.59,-7.13,-6.84,-6.06,-5.38,
-4.65,-4.55,-4.65,-4.60,-4.55,-4.80,-5.02,-4.85,-4.89,-5.19,-4.89,-4.65,
-4.80,-4.99,-4.75,-4.51,-4.65,-4.82,-4.65,-4.51,-4.75,-4.97,-4.70,-4.51,
-4.70,-4.80,-4.65,-4.94,-4.99,-4.65,-4.39,-4.51,-4.70,-4.41,-3.97,-4.26,
-4.58,-4.55,-4.43,-4.60,-4.97,-4.91,-4.60,-4.49,-4.60,-4.65,-4.85,-4.99,
-4.94,-4.55,-4.43,-4.70,-4.99,-4.75,-4.49,-4.65,-4.80,-4.75,-4.72,-4.89,
-5.14,-4.94,-4.72,-4.85,-5.09,-4.94,-4.68,-4.99,-5.43,-5.48,-5.28,-5.11,
-5.28,-5.43,-5.11,-5.19,-5.57,-5.48,-4.99,-5.19,-5.33,-5.11,-5.19,-5.52,
-5.43,-5.19,-5.38,-5.46,-5.04,-5.19,-5.52,-5.62];

// ---- 5-day averages (red triangles) ----
const avgMJD = [61224,61229,61234,61239,61244,61249];
const avgNs = [-6.8,-5.1,-4.8,-4.7,-5.1,-5.5];
const avgLabels = ['-6.8','-5.1','-4.8','-4.7','-5.1','-5.5'];

// ---- stability (bottom panels) ----
const tauSec = [1053,2106,4212,8424,16848,33696,67392,134784,269568,539136];
const mdevLog = [-11.96,-12.35,-12.82,-13.23,-13.64,-13.82,-14.28,-14.53,-14.73,-14.97];
const mdevLabels = ['108.5','447.4','151.7','58.8','23.4','15.3','5.2','3.0','1.9','1.1'];
const tdevE10 = [6.7,5.4,3.7,2.9,2.3,3.0,2.0,2.4,2.9,3.3];
const tdevLabels = ['6.7','5.4','3.7','2.9','2.3','3.0','2.0','2.4','2.9','3.3'];
const refTauSec = [1800,3600,10800,21600,43200,86400,259200,604800];
const refTauLabels = ['h/2','h','d/8','d/4','d/2','day','ddd','wk'];
const refMdevFloor = [-15.5,-15.5,-15.5,-15.5,-15.5,-15.5,-15.5,-15.5];
const refTdevFloor = [1,1,1,1,1,1,1,1];

// ---- texts ----
const mainTitle = 'UTC(AOS)-UTC(PL)\u00a0\u00a0/GPS\u00a0\u00a0P3\u00a0\u00a0(AO_3,PL_5)';
const infoLine = 'GPS.GPI/Tai2607__AO_3-PL_5/046-040#_\u00a0\u00a02869/1_AV/L2U__CLB__139_____';
const residLine = 'Max Smoothing Residual: -2.033_Vdk1.D5\u00a0\u00a0Sigma= 0.722ns14/55_08/04/26Mn_____-5.384';
const tauLine = '\u03c4 = 1053s';

const FONT = 'Liberation Sans, Arial, Helvetica, sans-serif';
const RED = '#ff0000';
const tickF = {family: FONT, size: 28, color: '#000'};
const titleF = {family: FONT, size: 29, color: '#000', weight: 700};
const lblF = {family: FONT, size: 19, color: RED, weight: 700};

function ax(extra) {
  return Object.assign({
    showline: true, linecolor: '#000', linewidth: 1.3, mirror: 'ticks',
    ticks: 'outside', ticklen: 14, tickwidth: 2, tickcolor: '#000',
    showgrid: false, zeroline: false, tickfont: tickF, fixedrange: true
  }, extra);
}
const dayMinor = {ticks: 'outside', dtick: 1, tick0: 61217, ticklen: 7, tickwidth: 2, tickcolor: '#000', showgrid: false};
const crossMarker = {symbol: 'x-thin', size: 7, color: '#000', line: {color: '#000', width: 1}};

const traces = [
  {type: 'scatter', mode: 'markers', x0: sampleStartMJD, dx: sampleStepDays, y: clockDiffNs,
   xaxis: 'x', yaxis: 'y', marker: crossMarker},
  {type: 'scatter', mode: 'markers', x0: sampleStartMJD_B, dx: sampleStepDays, y: clockDiffNsB,
   xaxis: 'x', yaxis: 'y', marker: crossMarker},
  {type: 'scatter', mode: 'lines', x: smoothMJD, y: smoothNs, xaxis: 'x', yaxis: 'y',
   line: {color: '#1e90ff', width: 4.5, shape: 'spline', smoothing: 0.8}},
  {type: 'scatter', mode: 'markers', x: avgMJD, y: avgNs, xaxis: 'x', yaxis: 'y',
   marker: {symbol: 'triangle-up-open', size: 40, color: RED, line: {color: RED, width: 4}}},
  {type: 'scatter', mode: 'markers', x0: sampleStartMJD, dx: sampleStepDays, y: residualsNs,
   xaxis: 'x2', yaxis: 'y2', marker: crossMarker},
  {type: 'scatter', mode: 'markers', x0: sampleStartMJD_B, dx: sampleStepDays, y: residualsNsB,
   xaxis: 'x2', yaxis: 'y2', marker: crossMarker},
  {type: 'scatter', mode: 'markers+text', x: tauSec, y: mdevLog, text: mdevLabels, textposition: 'top center',
   textfont: lblF, cliponaxis: true, xaxis: 'x3', yaxis: 'y3', marker: {size: 13, color: '#000'}},
  {type: 'scatter', mode: 'markers', x: refTauSec, y: refMdevFloor, cliponaxis: true,
   xaxis: 'x3', yaxis: 'y3', marker: {size: 9, color: '#000'}},
  {type: 'scatter', mode: 'markers', x: tauSec, y: tdevE10, xaxis: 'x4', yaxis: 'y4',
   marker: {size: 13, color: '#000'}},
  {type: 'scatter', mode: 'markers', x: refTauSec, y: refTdevFloor, cliponaxis: true,
   xaxis: 'x4', yaxis: 'y4', marker: {size: 13, color: '#000'}}
];

const annotations = [];
avgMJD.forEach((m, i) => annotations.push({xref: 'x', yref: 'y', x: m, y: avgNs[i], text: avgLabels[i],
  showarrow: false, yshift: 161, font: {family: FONT, size: 25, color: RED, weight: 700}}));
tauSec.forEach((t, i) => annotations.push({xref: 'x4', yref: 'y4', x: Math.log10(t), y: Math.log10(tdevE10[i]),
  text: tdevLabels[i], showarrow: false, yshift: 36, font: lblF}));
refTauSec.forEach((t, i) => {
  annotations.push({xref: 'x3', yref: 'y3', x: Math.log10(t), y: refMdevFloor[i], text: refTauLabels[i],
    showarrow: false, yshift: 18, font: lblF});
  annotations.push({xref: 'x4', yref: 'y4', x: Math.log10(t), y: Math.log10(refTdevFloor[i]), text: refTauLabels[i],
    showarrow: false, yshift: 40, font: lblF});
});
annotations.push({xref: 'paper', yref: 'paper', x: 198/1488, y: 1 - 798/2105, xanchor: 'left', yanchor: 'middle',
  text: infoLine, showarrow: false, font: {family: FONT, size: 30, color: '#000', weight: 700}});
annotations.push({xref: 'paper', yref: 'paper', x: 200/1488, y: 1 - 1371/2105, xanchor: 'left', yanchor: 'middle',
  text: residLine, showarrow: false, font: {family: FONT, size: 25, color: '#000', weight: 700}});
annotations.push({xref: 'paper', yref: 'paper', x: 213/1488, y: 1 - 1537/2105, xanchor: 'left', yanchor: 'middle',
  text: tauLine, showarrow: false, font: {family: FONT, size: 17, color: '#000', weight: 700}});

const layout = {
  width: 1488, height: 2105, paper_bgcolor: '#fff', plot_bgcolor: '#fff',
  margin: {l: 0, r: 0, t: 0, b: 0}, showlegend: false,
  font: {family: FONT, color: '#000'},
  title: {text: mainTitle, x: 792/1488, xanchor: 'center', xref: 'paper', y: 1 - 67/2105, yanchor: 'middle', yref: 'paper',
          font: {family: FONT, size: 35, color: '#000'}},
  xaxis: ax({domain: [162/1488, 1422/1488], anchor: 'y', range: [61217, 61251], tickmode: 'linear', tick0: 61215, dtick: 5,
    tickformat: 'd', minor: dayMinor, title: {text: 'Modified Julian Date', font: titleF, standoff: 4}}),
  yaxis: ax({domain: [1 - 846/2105, 1 - 125/2105], anchor: 'x', range: [-14, 7], tickmode: 'linear', tick0: 0, dtick: 5,
    title: {text: 'nanosecond', font: titleF, standoff: 20}}),
  xaxis2: ax({domain: [162/1488, 1422/1488], anchor: 'y2', range: [61217, 61251], tickmode: 'linear', tick0: 61215, dtick: 5,
    tickformat: 'd', minor: dayMinor, title: {text: 'Modified Julian Date', font: titleF, standoff: 4}}),
  yaxis2: ax({domain: [1 - 1403/2105, 1 - 953/2105], anchor: 'x2', range: [-2.48, 2.505], tickmode: 'linear', tick0: 0, dtick: 0.5,
    tickformat: '.1f', title: {text: 'residuals (ns)', font: titleF, standoff: 20}}),
  xaxis3: ax({domain: [169/1488, 709/1488], anchor: 'y3', type: 'log', range: [3, 6], tickmode: 'array',
    tickvals: [1e3, 1e4, 1e5, 1e6], ticktext: ['3', '4', '5', '6'],
    minor: {ticks: 'outside', tickmode: 'array', tickvals: [3162.28, 31622.8, 316228], ticklen: 7, tickwidth: 2, tickcolor: '#000', showgrid: false},
    title: {text: 'Averaging time, log(\u03c4) (s)', font: titleF, standoff: 6}}),
  yaxis3: ax({domain: [1 - 1959/2105, 1 - 1511/2105], anchor: 'x3', range: [-15.5, -10.5], tickmode: 'linear', tick0: 0, dtick: 1,
    minor: {ticks: 'outside', tick0: 0.5, dtick: 1, ticklen: 7, tickwidth: 2, tickcolor: '#000', showgrid: false},
    title: {text: 'Modified Allan Deviation (10<sup>-15</sup>)', font: titleF, standoff: 14}}),
  xaxis4: ax({domain: [853/1488, 1395/1488], anchor: 'y4', type: 'log', range: [2.75, 6], tickmode: 'array',
    tickvals: [1e3, 1e4, 1e5, 1e6], ticktext: ['3', '4', '5', '6'],
    minor: {ticks: 'outside', tickmode: 'array', tickvals: [3162.28, 31622.8, 316228], ticklen: 7, tickwidth: 2, tickcolor: '#000', showgrid: false},
    title: {text: 'Averaging time, log(\u03c4) (s)', font: titleF, standoff: 6}}),
  yaxis4: ax({domain: [1 - 1961/2105, 1 - 1511/2105], anchor: 'x4', type: 'log', range: [0, 1.5], tickmode: 'array',
    tickvals: [1, 10], ticktext: ['\u221210', '\u22129'],
    minor: {ticks: 'outside', tickmode: 'array', tickvals: [3.1623, 31.62], ticklen: 7, tickwidth: 2, tickcolor: '#000', showgrid: false},
    title: {text: 'Time deviation (10<sup>-10</sup> s)', font: titleF, standoff: 14}}),
  annotations: annotations
};

Plotly.newPlot('chart', traces, layout, {staticPlot: true, displayModeBar: false});
</script>
</body></html>
